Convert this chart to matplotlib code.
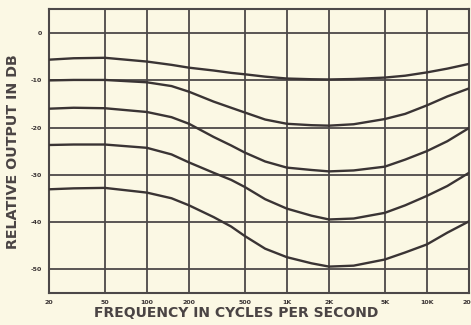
import matplotlib
matplotlib.use("Agg")
import matplotlib.pyplot as plt

freqs = [20, 30, 50, 100, 150, 200, 300, 400, 500, 700, 1000, 1500, 2000, 3000, 5000, 7000, 10000, 14000, 20000]
curve_1 = [-5.6, -5.3, -5.2, -6.0, -6.7, -7.3, -7.9, -8.4, -8.7, -9.2, -9.6, -9.75, -9.8, -9.7, -9.4, -9.0, -8.3, -7.5, -6.5]
curve_2 = [-10.0, -9.9, -9.9, -10.4, -11.2, -12.4, -14.5, -15.8, -16.8, -18.3, -19.2, -19.5, -19.6, -19.3, -18.2, -17.1, -15.3, -13.4, -11.7]
curve_3 = [-16.0, -15.8, -15.9, -16.7, -17.8, -19.2, -22.0, -23.8, -25.3, -27.2, -28.5, -29.0, -29.3, -29.1, -28.3, -26.8, -25.0, -22.9, -20.1]
curve_4 = [-23.7, -23.6, -23.6, -24.3, -25.7, -27.4, -29.6, -31.1, -32.6, -35.2, -37.2, -38.7, -39.5, -39.3, -38.1, -36.5, -34.5, -32.4, -29.6]
curve_5 = [-33.1, -32.9, -32.8, -33.8, -35.0, -36.5, -39.0, -41.0, -43.0, -45.7, -47.5, -48.8, -49.5, -49.3, -48.0, -46.5, -44.8, -42.3, -39.9]

x_ticks = [20, 50, 100, 200, 500, 1000, 2000, 5000, 10000, 20000]
x_tick_labels = ["20", "50", "100", "200", "500", "1K", "2K", "5K", "10K", "20K"]
y_ticks = [0, -10, -20, -30, -40, -50]
y_tick_labels = ["0", "-10", "-20", "-30", "-40", "-50"]

bg = "#fbf8e4"
ink = "#3a3434"
grid_c = "#4c4848"

fig = plt.figure(figsize=(4.71, 3.25), dpi=100, facecolor=bg)
ax = fig.add_axes([49/471, 1-293/325, 420/471, 284/325], facecolor=bg)

ax.set_xscale("log")
ax.set_xlim(20, 20000)
ax.set_ylim(-55.1, 5.15)

for xv in x_ticks:
    ax.axvline(xv, color=grid_c, lw=1.3, zorder=1)
for yv in y_ticks:
    ax.axhline(yv, color=grid_c, lw=1.3, zorder=1)

for c in [curve_1, curve_2, curve_3, curve_4, curve_5]:
    ax.plot(freqs, c, color=ink, lw=1.7, zorder=3, solid_capstyle="round", solid_joinstyle="round")

for s in ax.spines.values():
    s.set_color(grid_c)
    s.set_linewidth(1.5)

ax.set_xticks(x_ticks)
ax.set_xticklabels(x_tick_labels)
ax.minorticks_off()
ax.set_yticks(y_ticks)
ax.set_yticklabels(y_tick_labels)
ax.tick_params(axis="both", length=0, labelsize=4.5, labelcolor=ink, pad=5)
for lab in ax.get_xticklabels() + ax.get_yticklabels():
    lab.set_fontweight("bold")

fig.text(236/471, 1-313/325, "FREQUENCY IN CYCLES PER SECOND", ha="center", va="center",
         fontsize=10, fontweight="bold", color="#4a4444", family="DejaVu Sans")
fig.text(13/471, 1-152/325, "RELATIVE OUTPUT IN DB", ha="center", va="center", rotation=90,
         fontsize=10.3, fontweight="bold", color="#4a4444", family="DejaVu Sans")

fig.savefig("out.png", dpi=100, facecolor=bg)
